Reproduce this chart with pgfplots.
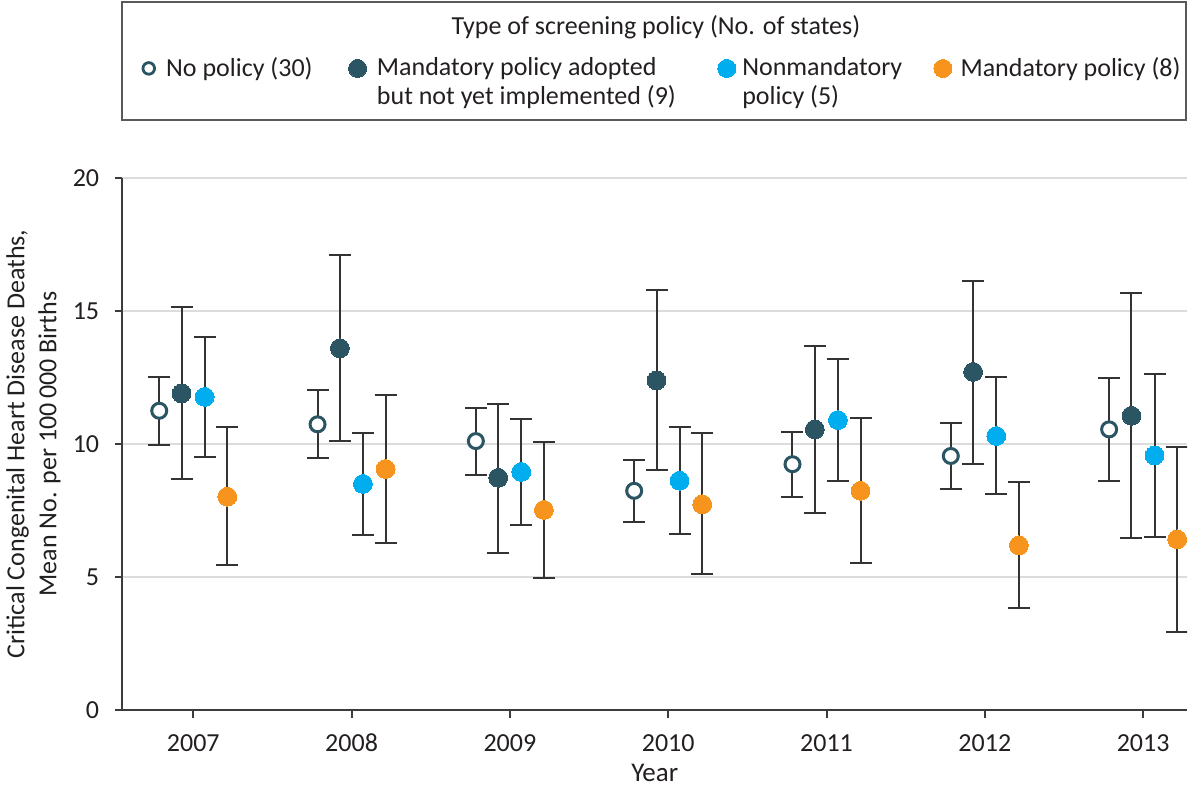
\documentclass[border=0pt]{standalone}
\usepackage{fontspec}
\setmainfont{Carlito}
\usepackage{pgfplots}
\usepackage{pgfplotstable}
\pgfplotsset{compat=1.18}
\definecolor{cdark}{HTML}{2B5563}
\definecolor{cblue}{HTML}{00AEEF}
\definecolor{corange}{HTML}{F7941D}
\definecolor{ebar}{HTML}{333333}
\definecolor{axgray}{HTML}{3C3C3C}
\definecolor{gridgray}{HTML}{DCDCDC}
\definecolor{txt}{HTML}{231F20}

\pgfplotstableread{
year y lo hi
2007 11.25 9.95 12.52
2008 10.74 9.46 12.03
2009 10.11 8.85 11.34
2010 8.24 7.07 9.40
2011 9.24 8.02 10.45
2012 9.55 8.30 10.79
2013 10.55 8.62 12.47
}\nopolicy
\pgfplotstableread{
year y lo hi
2007 11.90 8.67 15.15
2008 13.60 10.12 17.09
2009 8.73 5.90 11.52
2010 12.39 9.02 15.80
2011 10.55 7.39 13.68
2012 12.71 9.25 16.14
2013 11.06 6.47 15.69
}\adopted
\pgfplotstableread{
year y lo hi
2007 11.77 9.53 14.02
2008 8.50 6.57 10.40
2009 8.95 6.95 10.95
2010 8.62 6.63 10.64
2011 10.90 8.62 13.18
2012 10.30 8.13 12.52
2013 9.57 6.50 12.62
}\nonmand
\pgfplotstableread{
year y lo hi
2007 8.02 5.45 10.64
2008 9.06 6.28 11.85
2009 7.52 4.95 10.08
2010 7.73 5.11 10.40
2011 8.24 5.51 10.96
2012 6.19 3.83 8.57
2013 6.42 2.94 9.89
}\mand

\begin{document}
\begin{tikzpicture}
\begin{axis}[
  at={(0,0)}, anchor=south west,
  scale only axis, width=532.25bp, height=266bp,
  xmin=2006.553, xmax=2013.277, ymin=0, ymax=20,
  axis x line*=bottom, axis y line*=left,
  axis line style={draw=axgray, line width=1bp},
  xtick={2007,2008,2009,2010,2011,2012,2013},
  ytick={0,5,10,15,20},
  /pgf/number format/1000 sep={},
  /pgf/number format/assume math mode=true,
  tick align=outside, major tick length=4bp,
  tick style={draw=axgray, line width=1bp},
  ymajorgrids, grid style={draw=gridgray, line width=0.7bp},
  xticklabel style={font=\fontsize{13bp}{15bp}\selectfont, text=txt, anchor=base, inner sep=0pt, yshift=-16.65bp},
  yticklabel style={font=\fontsize{13bp}{15bp}\selectfont, text=txt, anchor=east, inner sep=0pt, xshift=-7.5bp},
  every axis x label/.style={at={(axis description cs:0.5,0)}, anchor=base, yshift=-35.5bp, font=\fontsize{13.5bp}{15bp}\selectfont, text=txt},
  every axis y label/.style={at={(axis description cs:-0.0836,0.5)}, rotate=90, anchor=center, align=center, font=\fontsize{13bp}{16bp}\selectfont, text=txt},
  xlabel={Year},
  ylabel={Critical Congenital Heart Disease Deaths,\\Mean No. per 100\,000 Births},
  error bars/error bar style={draw=ebar, line width=1bp},
  error bars/error mark options={rotate=90, draw=ebar, line width=1bp, mark size=5.5bp},
  legend columns=4,
  legend cell align=left,
  legend image code/.code={\path (-6bp,0bp) (8bp,0bp); \draw[#1] plot coordinates {(0bp,0bp)};},
  legend style={at={(axis description cs:0.00704,1.2349)}, anchor=north west, draw=none, fill=none,
    nodes={inner sep=0pt}, column sep=0pt,
    font=\fontsize{13bp}{14.5bp}\selectfont, text=txt},
]
\addplot[forget plot, only marks, mark=*, mark size=3.75bp, mark options={fill=white, draw=cdark, line width=1.5bp},
  error bars/.cd, y dir=both, y explicit]
  table[x expr=\thisrow{year}-0.215, y=y, y error plus expr=\thisrow{hi}-\thisrow{y}, y error minus expr=\thisrow{y}-\thisrow{lo}] {\nopolicy};
\addplot[forget plot, only marks, mark=*, mark size=4.7bp, mark options={fill=cdark, draw=cdark, line width=0pt},
  error bars/.cd, y dir=both, y explicit]
  table[x expr=\thisrow{year}-0.074, y=y, y error plus expr=\thisrow{hi}-\thisrow{y}, y error minus expr=\thisrow{y}-\thisrow{lo}] {\adopted};
\addplot[forget plot, only marks, mark=*, mark size=4.7bp, mark options={fill=cblue, draw=cblue, line width=0pt},
  error bars/.cd, y dir=both, y explicit]
  table[x expr=\thisrow{year}+0.072, y=y, y error plus expr=\thisrow{hi}-\thisrow{y}, y error minus expr=\thisrow{y}-\thisrow{lo}] {\nonmand};
\addplot[forget plot, only marks, mark=*, mark size=4.7bp, mark options={fill=corange, draw=corange, line width=0pt},
  error bars/.cd, y dir=both, y explicit]
  table[x expr=\thisrow{year}+0.215, y=y, y error plus expr=\thisrow{hi}-\thisrow{y}, y error minus expr=\thisrow{y}-\thisrow{lo}] {\mand};

\addlegendimage{only marks, mark=*, mark size=2.9bp, mark options={fill=white, draw=cdark, line width=1.4bp}}
\addlegendentry{\hspace*{0.5bp}\parbox[t]{89.5bp}{No policy (30)}}
\addlegendimage{only marks, mark=*, mark size=4.5bp, mark options={fill=cdark, draw=cdark, line width=0pt}}
\addlegendentry{\hspace*{1.5bp}\parbox[t]{168.75bp}{Mandatory policy adopted\\but not yet implemented (9)}}
\addlegendimage{only marks, mark=*, mark size=4.5bp, mark options={fill=cblue, draw=cblue, line width=0pt}}
\addlegendentry{\hspace*{-0.5bp}\parbox[t]{94.15bp}{Nonmandatory\\policy (5)}}
\addlegendimage{only marks, mark=*, mark size=4.5bp, mark options={fill=corange, draw=corange, line width=0pt}}
\addlegendentry{\hspace*{0.6bp}\parbox[t]{110bp}{Mandatory policy (8)}}
\end{axis}
\draw[draw=black!65, line width=0.8bp] (-0.25bp,295bp) rectangle (531.75bp,354bp);
\node[anchor=base, text=txt, font=\fontsize{13bp}{15bp}\selectfont, inner sep=0pt] at (266.75bp,337.5bp) {Type of screening policy (No. of states)};
\pgfresetboundingbox
\path (-61.25bp,-37.5bp) rectangle (534.75bp,355bp);
\end{tikzpicture}
\end{document}
